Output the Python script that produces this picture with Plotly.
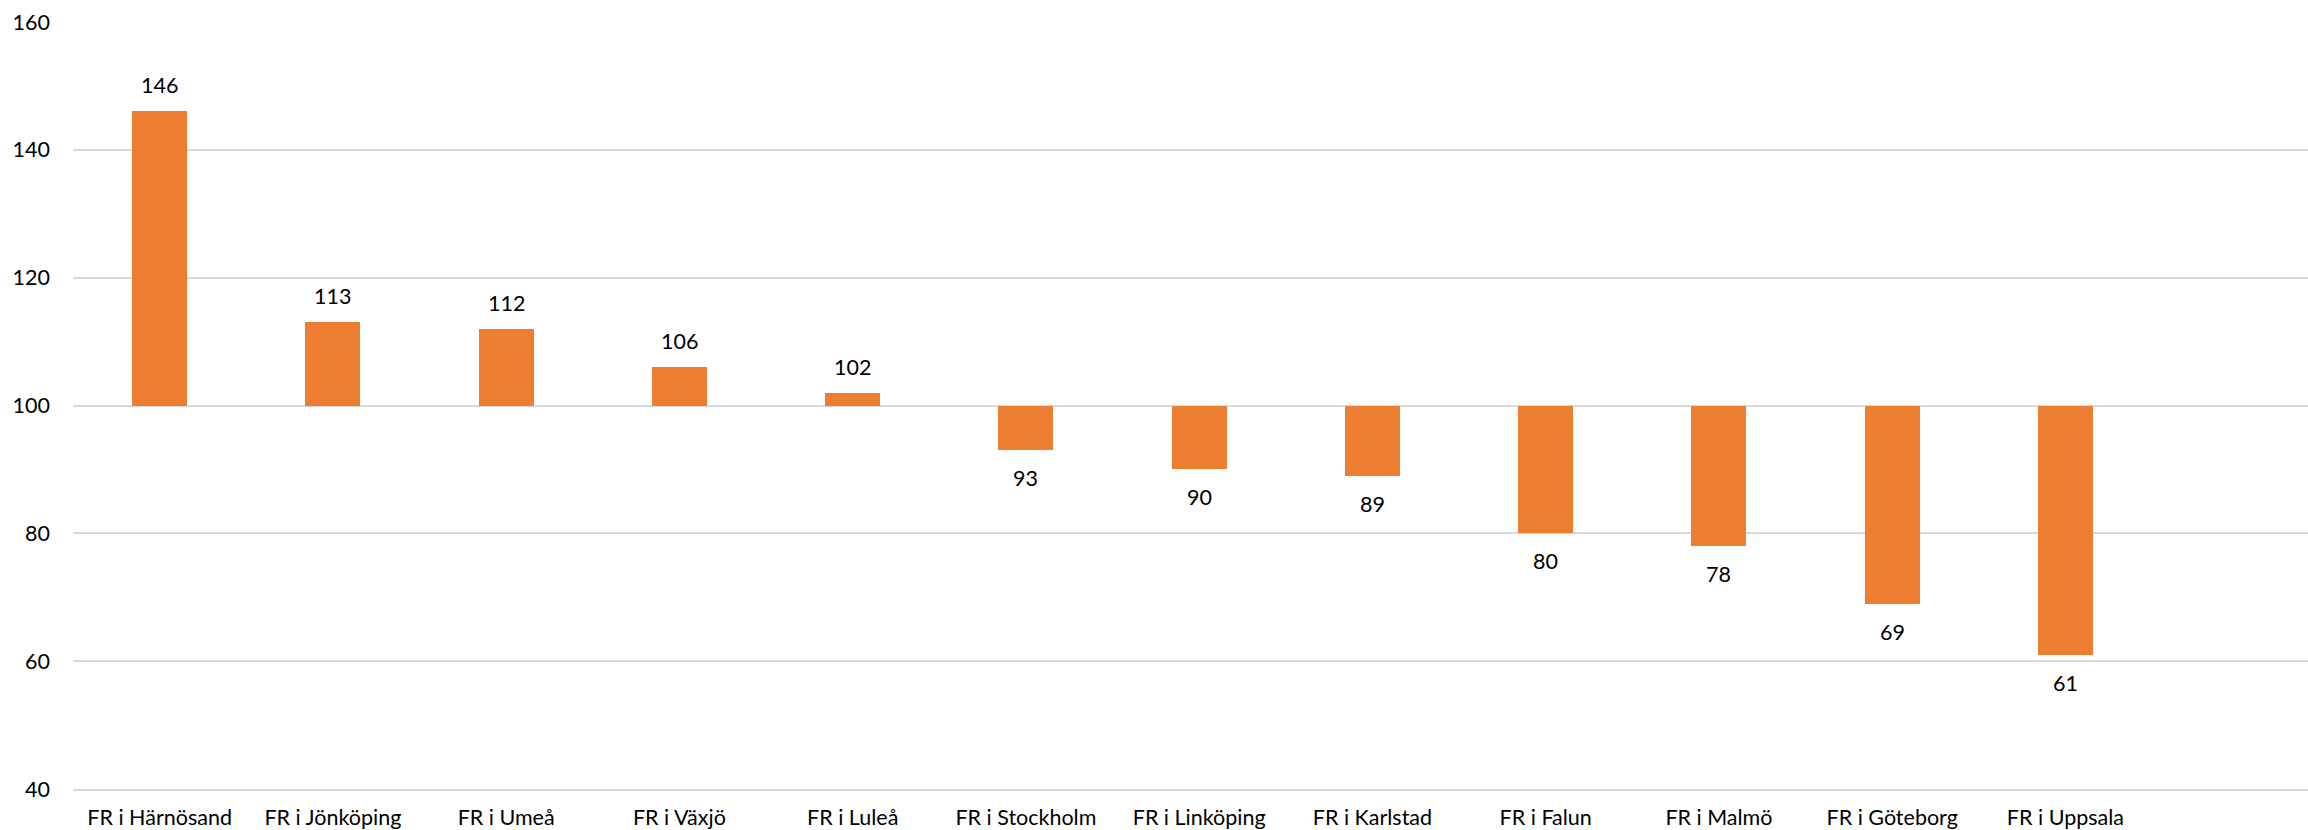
import plotly.graph_objects as go

categories = ["FR i Härnösand", "FR i Jönköping", "FR i Umeå", "FR i Växjö", "FR i Luleå",
              "FR i Stockholm", "FR i Linköping", "FR i Karlstad", "FR i Falun", "FR i Malmö",
              "FR i Göteborg", "FR i Uppsala"]
values = [146, 113, 112, 106, 102, 93, 90, 89, 80, 78, 69, 61]
baseline = 100
y_ticks = [40, 60, 80, 100, 120, 140, 160]

FONT = "Lato, 'Open Sans', sans-serif"
ORANGE = "#ED7D31"
FS = 21.5

fig = go.Figure()
fig.add_trace(go.Bar(
    x=categories,
    y=[v - baseline for v in values],
    base=baseline,
    marker=dict(color=ORANGE, line=dict(width=0)),
    width=0.317,
    hoverinfo="skip",
))

for c, v in zip(categories, values):
    fig.add_annotation(
        x=c, y=v, text=str(v), showarrow=False,
        yshift=26 if v >= baseline else -28,
        font=dict(family=FONT, size=FS, color="#000000"),
    )

fig.update_layout(
    width=2308, height=830,
    margin=dict(l=73, r=0, t=22, b=41),
    paper_bgcolor="white", plot_bgcolor="white",
    showlegend=False,
    font=dict(family=FONT, size=FS, color="#000000"),
    bargap=0,
)
fig.update_xaxes(
    type="category", range=[-0.5, 12.4],
    showgrid=False, showline=True, linecolor="#D9D9D9", linewidth=2,
    zeroline=False, ticks="",
    automargin=False, ticklabelstandoff=8,
    tickfont=dict(family=FONT, size=FS, color="#000000"),
)
fig.update_yaxes(
    range=[40, 160], tickvals=y_ticks,
    showgrid=True, gridcolor="#D9D9D9", gridwidth=2,
    showline=False, zeroline=False, ticks="",
    automargin=False, ticklabelstandoff=22,
    tickfont=dict(family=FONT, size=FS, color="#000000"),
)

fig.write_html(
    "out.html",
    config={"displayModeBar": False},
    post_script="document.body.style.margin='0';document.body.style.overflow='hidden';window.dispatchEvent(new Event('resize'));",
)
